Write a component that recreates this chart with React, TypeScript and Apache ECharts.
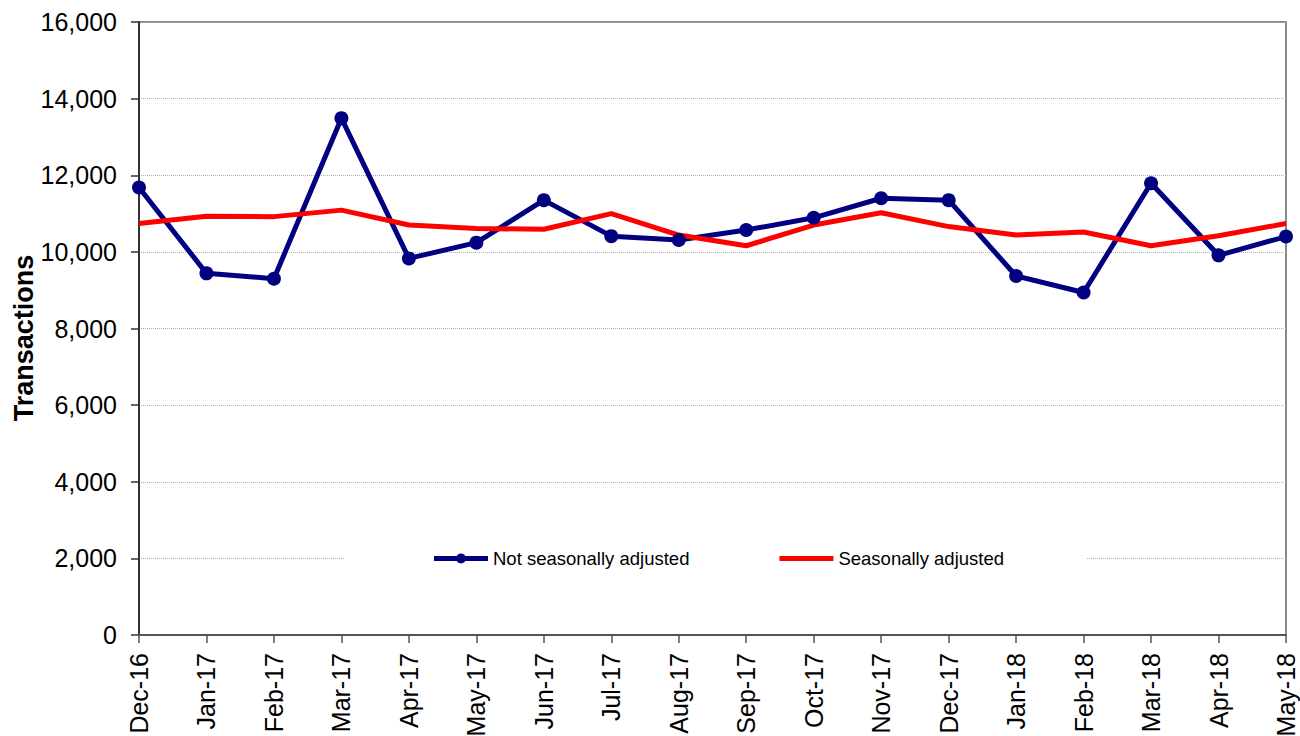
import React, { useEffect, useRef } from "react";
import * as echarts from "echarts";

const categories = [
  "Dec-16", "Jan-17", "Feb-17", "Mar-17", "Apr-17", "May-17", "Jun-17", "Jul-17", "Aug-17",
  "Sep-17", "Oct-17", "Nov-17", "Dec-17", "Jan-18", "Feb-18", "Mar-18", "Apr-18", "May-18",
];
const notSeasonallyAdjusted = [
  11680, 9440, 9300, 13490, 9830, 10240, 11350, 10410, 10310,
  10570, 10890, 11400, 11350, 9370, 8940, 11790, 9910, 10400,
];
const seasonallyAdjusted = [
  10740, 10930, 10920, 11090, 10700, 10610, 10590, 11000, 10440,
  10160, 10700, 11020, 10660, 10440, 10520, 10160, 10420, 10740,
];
const seriesNames = ["Not seasonally adjusted", "Seasonally adjusted"];
const yAxisTitle = "Transactions";

const FONT = "'Liberation Sans', Arial, Helvetica, sans-serif";

const ICON_LINE_DOT =
  "path://M0,0 M0,3 L23,3 L23,8 L0,8 Z M31,3 L54,3 L54,8 L31,8 Z M22,5.5 A5,5 0 1,1 32,5.5 A5,5 0 1,1 22,5.5 Z M54,11";
const ICON_LINE = "path://M0,0 M0,3 L54,3 L54,8 L0,8 Z M54,11";

export default function App() {
  const ref = useRef<HTMLDivElement>(null);
  useEffect(() => {
    if (!ref.current) return;
    const chart = echarts.init(ref.current, undefined, { renderer: "svg" });
    chart.setOption({
      animation: false,
      backgroundColor: "#ffffff",
      textStyle: { fontFamily: FONT },
      grid: {
        left: 139,
        right: 14,
        top: 22,
        bottom: 101,
        containLabel: false,
        outerBoundsMode: "none",
        show: true,
        borderColor: "#8a8a8a",
        borderWidth: 2,
        backgroundColor: "transparent",
      },
      legend: {
        left: 344,
        top: 541,
        data: [
          { name: seriesNames[0], icon: ICON_LINE_DOT, itemStyle: { color: "#000080" } },
          { name: seriesNames[1], icon: ICON_LINE, itemStyle: { color: "#ff0000" } },
        ],
        backgroundColor: "#ffffff",
        padding: [8, 83, 8, 90],
        itemGap: 90,
        itemWidth: 54,
        itemHeight: 11,
        textStyle: { fontSize: 18.5, color: "#000", fontFamily: FONT },
      },
      graphic: [
        {
          type: "text",
          x: 24,
          y: 338,
          rotation: Math.PI / 2,
          style: {
            text: yAxisTitle,
            fontSize: 27,
            fontWeight: "bold",
            fill: "#000",
            fontFamily: FONT,
            align: "center",
            verticalAlign: "middle",
          },
        },
      ],
      xAxis: {
        type: "category",
        data: categories,
        boundaryGap: false,
        axisLine: { show: true, lineStyle: { color: "#555", width: 2 } },
        axisTick: { show: true, alignWithLabel: true, length: 8, lineStyle: { color: "#555", width: 1.5 } },
        axisLabel: {
          rotate: 90,
          interval: 0,
          margin: 18,
          fontSize: 25,
          color: "#000",
          fontFamily: FONT,
        },
        splitLine: { show: false },
      },
      yAxis: {
        type: "value",
        min: 0,
        max: 16000,
        interval: 2000,
        axisLine: { show: true, lineStyle: { color: "#333", width: 2 } },
        axisTick: { show: true, length: 8, lineStyle: { color: "#333", width: 1.5 } },
        axisLabel: {
          margin: 22,
          fontSize: 25,
          color: "#000",
          fontFamily: FONT,
          formatter: (v: number) => v.toLocaleString("en-US"),
        },
        splitLine: { show: true, lineStyle: { color: "#b0b0b0", type: "dotted", width: 1 } },
      },
      series: [
        {
          name: seriesNames[0],
          type: "line",
          data: notSeasonallyAdjusted,
          symbol: "circle",
          symbolSize: 14,
          lineStyle: { color: "#000080", width: 5 },
          itemStyle: { color: "#000080" },
        },
        {
          name: seriesNames[1],
          type: "line",
          data: seasonallyAdjusted,
          symbol: "none",
          lineStyle: { color: "#ff0000", width: 5 },
          itemStyle: { color: "#ff0000" },
        },
      ],
    });
    return () => chart.dispose();
  }, []);
  return (
    <div
      ref={ref}
      style={{ position: "absolute", left: 0, top: 0, width: 1300, height: 736 }}
    />
  );
}
